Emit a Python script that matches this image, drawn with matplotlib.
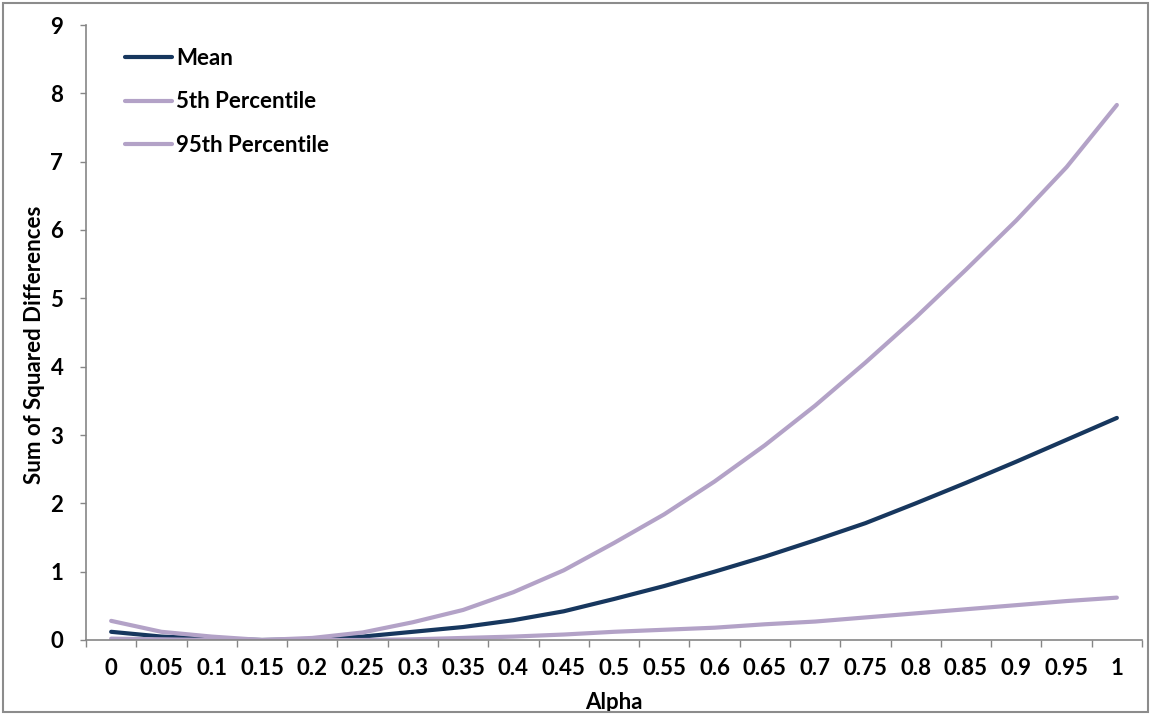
import matplotlib
matplotlib.use("Agg")
import matplotlib.pyplot as plt
from matplotlib.patches import Rectangle
import numpy as np

plt.rcParams['font.family'] = ['Lato', 'DejaVu Sans']

alpha_labels = ["0", "0.05", "0.1", "0.15", "0.2", "0.25", "0.3", "0.35", "0.4", "0.45",
                "0.5", "0.55", "0.6", "0.65", "0.7", "0.75", "0.8", "0.85", "0.9", "0.95", "1"]
mean_vals = [0.12, 0.05, 0.02, 0.0, 0.01, 0.05, 0.12, 0.19, 0.29, 0.42, 0.60, 0.79, 1.0,
             1.22, 1.46, 1.71, 2.0, 2.3, 2.61, 2.93, 3.25]
p5_vals = [0.02, 0.01, 0.0, 0.0, 0.0, 0.0, 0.01, 0.03, 0.05, 0.08, 0.12, 0.15, 0.18,
           0.23, 0.27, 0.33, 0.39, 0.45, 0.51, 0.57, 0.62]
p95_vals = [0.28, 0.12, 0.05, 0.0, 0.03, 0.11, 0.26, 0.44, 0.70, 1.02, 1.42, 1.84, 2.32,
            2.85, 3.43, 4.06, 4.72, 5.42, 6.14, 6.92, 7.83]
y_ticks = list(range(0, 10))

navy = "#17375E"
purple = "#B3A2C7"
axis_gray = "#868686"
FS = 16

fig = plt.figure(figsize=(11.51, 7.15), dpi=100)
ax = fig.add_axes([86 / 1151, 1 - 640 / 715, (1142 - 86) / 1151, (640 - 25) / 715])

x = np.arange(len(alpha_labels))
ax.plot(x, mean_vals, color=navy, lw=3.0, solid_capstyle='round', solid_joinstyle='round', label="Mean")
ax.plot(x, p5_vals, color=purple, lw=3.0, solid_capstyle='round', solid_joinstyle='round', label="5th Percentile")
ax.plot(x, p95_vals, color=purple, lw=3.0, solid_capstyle='round', solid_joinstyle='round', label="95th Percentile")

ax.set_xlim(-0.5, len(alpha_labels) - 0.5)
ax.set_ylim(0, 9)
ax.set_xticks(x)
ax.set_xticklabels(alpha_labels, fontweight='bold', fontsize=FS)
ax.set_xticks(np.arange(-0.5, len(alpha_labels)), minor=True)
ax.tick_params(axis='x', which='major', length=0, pad=13)
ax.tick_params(axis='x', which='minor', length=5, width=1, color=axis_gray, direction='out')
ax.set_yticks(y_ticks)
ax.set_yticklabels([str(v) for v in y_ticks], fontweight='bold', fontsize=FS)
ax.tick_params(axis='y', length=4.3, width=1, color=axis_gray, direction='out', pad=12)

for s in ['top', 'right']:
    ax.spines[s].set_visible(False)
for s in ['left', 'bottom']:
    ax.spines[s].set_color(axis_gray)
    ax.spines[s].set_linewidth(1.2)

ax.set_xlabel("Alpha", fontweight='bold', fontsize=FS, labelpad=9)
ax.set_ylabel("Sum of Squared Differences", fontweight='bold', fontsize=FS)
ax.yaxis.set_label_coords(-0.039, 0.48)

leg = ax.legend(loc='upper left', bbox_to_anchor=(114 / 1151, 1 - 37 / 715),
                bbox_transform=fig.transFigure, frameon=False,
                prop={'weight': 'bold', 'size': FS},
                handlelength=2.1, handletextpad=0.2, labelspacing=1.0, borderpad=0)

fig.patches.append(Rectangle((0.003, 0.004), 0.994, 0.992, transform=fig.transFigure,
                             fill=False, edgecolor="#8C8C8C", linewidth=1.5))

fig.savefig("out.png", dpi=100, facecolor='white')
